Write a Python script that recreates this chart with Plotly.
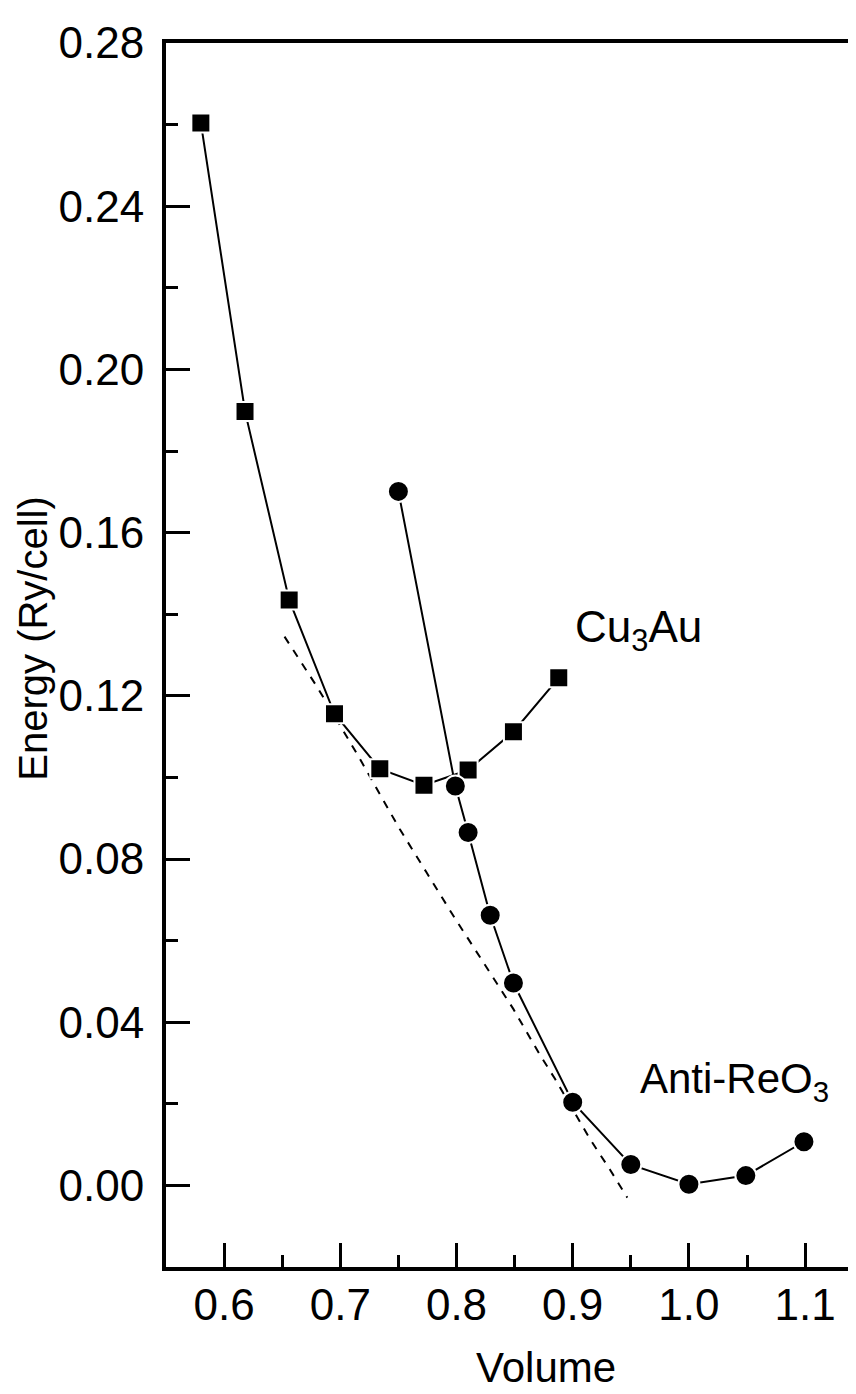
import plotly.graph_objects as go

# Cu3Au (squares)
cu3au_volume = [0.580, 0.618, 0.656, 0.695, 0.734, 0.772, 0.810, 0.849, 0.888]
cu3au_energy = [0.2604, 0.1897, 0.1435, 0.1156, 0.1021, 0.0981, 0.1018, 0.1112, 0.1244]

# Anti-ReO3 (circles)
anti_volume = [0.750, 0.799, 0.810, 0.829, 0.849, 0.900, 0.950, 1.000, 1.049, 1.099]
anti_energy = [0.1701, 0.0979, 0.0865, 0.0662, 0.0496, 0.0204, 0.0051, 0.0003, 0.0024, 0.0107]

# Dashed fitted curve
fit_volume = [0.652, 0.668, 0.680, 0.703, 0.716, 0.728, 0.751, 0.774, 0.797, 0.823,
              0.849, 0.872, 0.885, 0.915, 0.932, 0.947]
fit_energy = [0.1345, 0.1275, 0.1222, 0.1112, 0.1050, 0.0989, 0.0874, 0.0768, 0.0662, 0.0547,
              0.0432, 0.0319, 0.0260, 0.0113, 0.0039, -0.0030]

x_ticks = [0.6, 0.7, 0.8, 0.9, 1.0, 1.1]
x_ticklabels = ["0.6", "0.7", "0.8", "0.9", "1.0", "1.1"]
y_ticks = [0.00, 0.04, 0.08, 0.12, 0.16, 0.20, 0.24, 0.28]
y_ticklabels = ["0.00", "0.04", "0.08", "0.12", "0.16", "0.20", "0.24", "0.28"]

FONT = "Liberation Sans, Arial, sans-serif"

fig = go.Figure()
fig.add_trace(go.Scatter(
    x=fit_volume, y=fit_energy, mode="lines",
    line=dict(color="black", width=2, dash="8px,8px"),
    showlegend=False, hoverinfo="skip"))
fig.add_trace(go.Scatter(
    x=cu3au_volume, y=cu3au_energy, mode="lines+markers",
    line=dict(color="black", width=2),
    marker=dict(symbol="square", size=19, color="black", line=dict(color="white", width=2)),
    showlegend=False))
fig.add_trace(go.Scatter(
    x=anti_volume, y=anti_energy, mode="lines+markers",
    line=dict(color="black", width=2),
    marker=dict(symbol="circle", size=21, color="black", line=dict(color="white", width=2)),
    showlegend=False))

# page body has an 8px default margin: compensate so the plot frame lands
# at left=166, top=43, bottom=1267 in the 856x1394 window
fig.update_layout(
    width=856, height=1394,
    margin=dict(l=158, r=8, t=35, b=135, autoexpand=False),
    paper_bgcolor="white", plot_bgcolor="white",
    font=dict(family=FONT, size=44, color="black"),
    showlegend=False,
    xaxis=dict(
        range=[0.55, 1.1438], tickvals=x_ticks, ticktext=x_ticklabels,
        ticks="inside", ticklen=24, tickwidth=3, tickcolor="black",
        minor=dict(ticks="inside", ticklen=12, tickwidth=3, tickcolor="black", dtick=0.05, tick0=0.55),
        showline=True, linewidth=4, linecolor="black", mirror=True,
        showgrid=False, zeroline=False, ticklabelstandoff=-4,
        tickfont=dict(family=FONT, size=44, color="black")),
    yaxis=dict(
        range=[-0.02, 0.28], tickvals=y_ticks, ticktext=y_ticklabels,
        ticks="inside", ticklen=24, tickwidth=3, tickcolor="black",
        minor=dict(ticks="inside", ticklen=12, tickwidth=3, tickcolor="black", dtick=0.02, tick0=0.0),
        showline=True, linewidth=4, linecolor="black", mirror=False,
        showgrid=False, zeroline=False, ticklabelstandoff=9,
        tickfont=dict(family=FONT, size=44, color="black")),
    annotations=[
        dict(text="Volume", xref="paper", yref="paper", x=0.551, y=-0.0817,
             xanchor="center", yanchor="middle", showarrow=False,
             font=dict(family=FONT, size=42, color="black")),
        dict(text="Energy (Ry/cell)", xref="paper", yref="paper", x=-0.193, y=0.514,
             xanchor="center", yanchor="middle", textangle=-90, showarrow=False,
             font=dict(family=FONT, size=40, color="black")),
        dict(text="Cu<sub>3</sub>Au", xref="x", yref="y", x=0.9003, y=0.1362,
             xanchor="left", yanchor="middle", showarrow=False,
             font=dict(family=FONT, size=44, color="black")),
        dict(text="Anti-ReO<sub>3</sub>", xref="x", yref="y", x=0.9562, y=0.0255,
             xanchor="left", yanchor="middle", showarrow=False,
             font=dict(family=FONT, size=42, color="black")),
    ],
)

fig.write_html("out.html")
